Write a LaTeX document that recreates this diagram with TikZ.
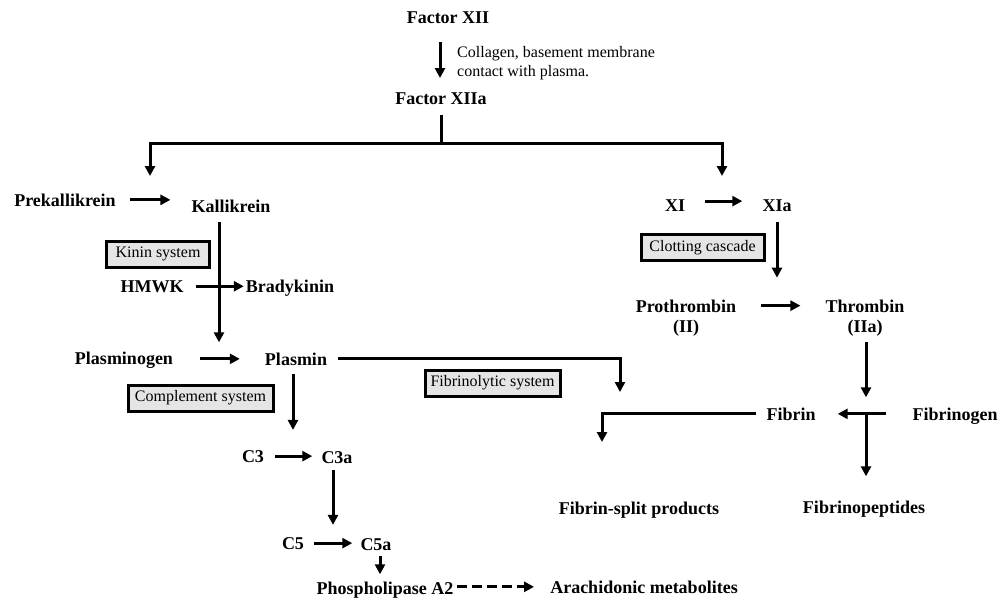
\documentclass[tikz,border=0pt]{standalone}
\usepackage{fontspec}
\setmainfont{Liberation Serif}
\usetikzlibrary{arrows.meta,calc}
\begin{document}
\begin{tikzpicture}[x=1pt,y=-1pt,
  lbl/.style={font=\fontsize{18}{20}\selectfont\bfseries, inner sep=0pt, anchor=base},
  twoline/.style={font=\fontsize{18}{20}\selectfont\bfseries, inner sep=0pt, align=center},
  sysbox/.style={draw, line width=3pt, fill=black!10, font=\fontsize{16}{19}\selectfont,
                 inner sep=0pt, minimum height=26pt},
  conn/.style={line width=3pt, line join=miter},
  tip/.tip={Triangle[length=10pt,width=10pt]},
  arr/.style={conn, -tip},
]
\fill[white] (0,0) rectangle (1002,598);
\useasboundingbox (0,0) rectangle (1002,598);

% ---- contact activation ----
\node[lbl] (f12)  at (448,23)  {Factor XII};
\node[lbl] (f12a) at (441,104) {Factor XIIa};
\node[font=\fontsize{16}{19}\selectfont, inner sep=0pt, anchor=north west, align=left]
  (contact) at (457,46) {Collagen, basement membrane\\contact with plasma.};
\draw[arr, shorten <=19pt, shorten >=14pt] ([xshift=-8pt]f12.south) -- ([xshift=-8pt]f12.south |- f12a.north);

\coordinate (br)  at (441,143);
\coordinate (bl)  at (150,176);
\coordinate (brr) at (722,176);
\draw[conn, shorten <=11pt] (f12a.south) -- (br);
\draw[conn, tip-tip] (bl) |- (br) -| (brr);

% ---- kallikrein / kinin branch ----
\node[lbl] (prek)  at (65,206)  {Prekallikrein};
\node[lbl] (kal)   at (231,212) {Kallikrein};
\node[sysbox, minimum width=103pt] (kinin) at (158,254) {Kinin system};
\node[lbl] (hmwk)  at (152,292) {HMWK};
\node[lbl] (brady) at (290,292) {Bradykinin};
\node[lbl] (plg)   at (124,364) {Plasminogen};
\node[lbl] (pls)   at (296,365) {Plasmin};

\draw[arr, shorten <=14pt, shorten >=21pt] (prek.east) -- (prek.east -| kal.west);
\draw[arr, shorten <=10pt, shorten >=10pt] ([xshift=-12pt]kal.south) -- ([xshift=-12pt]kal.south |- pls.north);
\draw[arr, shorten <=12pt, shorten >=2pt] (hmwk.east) -- (hmwk.east -| brady.west);
\draw[arr, shorten <=27pt, shorten >=25pt] (plg.east |- pls.west) -- (pls.west);

% ---- complement branch ----
\node[sysbox, minimum width=145pt] (comp) at (200.5,398) {Complement system};
\node[lbl] (c3)   at (253,462) {C3};
\node[lbl] (c3a)  at (337,463) {C3a};
\node[lbl] (c5)   at (293,549) {C5};
\node[lbl] (c5a)  at (376,550) {C5a};
\node[lbl] (pla2) at (385,594) {Phospholipase A2};
\node[lbl] (arach) at (644,593) {Arachidonic metabolites};

\draw[arr, shorten <=9pt, shorten >=20pt] ([xshift=-3pt]pls.south) -- ([xshift=-3pt]pls.south |- c3.north);
\draw[arr, shorten <=11pt, shorten >=9pt] (c3.east) -- (c3.east -| c3a.west);
\draw[arr, shorten <=7pt, shorten >=12pt] ([xshift=-4pt]c3a.south) -- ([xshift=-4pt]c3a.south |- c5.north);
\draw[arr, shorten <=10pt, shorten >=8pt] (c5.east) -- (c5.east -| c5a.west);
\draw[arr, shorten <=6pt, shorten >=7pt] ([xshift=4pt]c5a.south) -- ([xshift=4pt]c5a.south |- pla2.north);
\draw[arr, dash pattern=on 10pt off 5pt, shorten <=4pt, shorten >=16pt] (pla2.east |- arach.west) -- (arach.west);

% ---- fibrinolytic branch ----
\node[sysbox, minimum width=135pt] (fibsys) at (492.5,383) {Fibrinolytic system};
\node[lbl] (fsp) at (639,514) {Fibrin-split products};
\coordinate (fspa) at (620,392);
\coordinate (fspb) at (602,442);
\draw[arr, shorten <=11pt] (pls.east) -| (fspa);

% ---- clotting cascade ----
\node[lbl] (xi)  at (675,211) {XI};
\node[lbl] (xia) at (777,211) {XIa};
\node[sysbox, minimum width=123pt] (clot) at (702.5,247.5) {Clotting cascade};
\node[twoline] (proth) at (686,318) {Prothrombin\\(II)};
\node[twoline] (thr)   at (865,318) {Thrombin\\(IIa)};
\node[lbl] (fibrin)  at (791,420) {Fibrin};
\node[lbl] (fbgn)    at (955,420) {Fibrinogen};
\node[lbl] (fpep)    at (864,513) {Fibrinopeptides};

\draw[arr, shorten <=20pt, shorten >=20pt] ([yshift=4pt]xi.east) -- ([yshift=4pt]xi.east -| xia.west);
\draw[arr, shorten <=11pt, shorten >=22pt] (xia.south) -- (xia.south |- thr.north);
\draw[arr, shorten <=25pt, shorten >=25pt] ([yshift=-6pt]proth.north east) -- ([yshift=-6pt]proth.north east -| thr.west);
\draw[arr, shorten <=6pt, shorten >=10pt] ([xshift=1pt]thr.south) -- ([xshift=1pt]thr.south |- fibrin.north);
\draw[arr, shorten <=26pt, shorten >=22pt] (fbgn.west |- fibrin.east) -- (fibrin.east);
\coordinate (j) at ([xshift=1pt]thr.south |- fibrin.east);
\draw[arr, shorten >=24pt] (j) -- (j |- fpep.north);
\draw[arr, shorten <=10pt] (fibrin.west) -| (fspb);
\end{tikzpicture}
\end{document}
